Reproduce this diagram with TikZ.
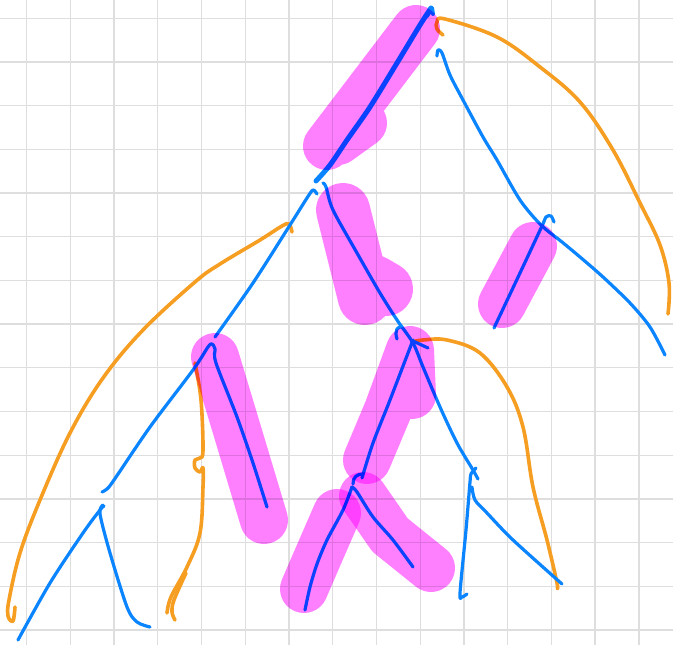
\documentclass[tikz,border=0pt]{standalone}
\definecolor{penblue}{HTML}{0A84FF}
\definecolor{penorange}{HTML}{F59E22}
\definecolor{hlpink}{HTML}{FF80FF}
\definecolor{gridgray}{HTML}{DEDEDE}
\tikzset{
  bluepen/.style={draw=penblue, line width=3.2pt, line cap=round, line join=round},
  boldpen/.style={draw=penblue, line width=5pt, line cap=round, line join=round},
  orangepen/.style={draw=penorange, line width=3.6pt, line cap=round, line join=round},
  hl/.style={draw=hlpink, line width=48pt, line cap=round, line join=round, blend mode=multiply},
  gridline/.style={draw=gridgray, line width=1.3pt}
}
\begin{document}
\begin{tikzpicture}[x=1pt,y=-1pt]
\useasboundingbox (0,0) rectangle (673,645);
\fill[white] (0,0) rectangle (673,645);
% grid paper
\foreach \k in {0,...,14}{
  \draw[gridline] ({26.5+43.74*\k},0) -- ({26.5+43.74*\k},645);
  \draw[gridline] (0,{18.2+43.7*\k}) -- (673,{18.2+43.7*\k});
}
% ---------- orange strokes ----------
\draw[orangepen] plot[smooth, tension=0.6] coordinates {(443,35) (437,29) (437,22) (445,19) (497,37) (540,67) (580,102) (613,150) (640,203) (660,245) (669,283) (668,314)};
\draw[orangepen] plot[smooth, tension=0.6] coordinates {(292,232) (289,224) (282,226) (260,240) (220,264) (195,282) (143,330) (103,378) (70,433) (40,500) (20,553) (9,600) (8,616) (13,621) (15,607)};
\draw[orangepen] plot[smooth, tension=0.6] coordinates {(412,342) (423,340) (447,340) (480,353) (507,387) (523,427) (533,487) (547,540) (557,583) (557,588)};
\draw[orangepen] plot[smooth, tension=0.6] coordinates {(195,363) (201,400) (203,450) (200,458) (195,460) (195,468) (200,472) (203,468) (203,487) (200,533) (187,567) (171,597) (167,613)};
\draw[orangepen] plot[smooth, tension=0.6] coordinates {(186,573) (174,600) (172,612) (175,620)};
% ---------- blue strokes ----------
\draw[boldpen] plot[smooth, tension=0.5] coordinates {(316,181) (330,165) (347,140) (370,107) (397,63) (420,25) (431,8)};
\draw[bluepen, line width=4pt] (427,16) -- (432,8) -- (433,14);
\draw[bluepen] plot[smooth, tension=0.5] coordinates {(437,56) (438,50) (442,53) (450,75) (463,100) (483,137) (497,160) (520,200) (541,225) (562,242) (580,257) (603,277) (630,303) (650,327) (665,355)};
\draw[bluepen] plot[smooth, tension=0.5] coordinates {(554,222) (551,216) (546,217) (542,226) (520,273) (494,328)};
\draw[bluepen] plot[smooth, tension=0.5] coordinates {(323,183) (326,187) (333,210) (357,253) (380,293) (397,320) (413,343) (423,367) (440,407) (457,443) (473,470) (478,479)};
\draw[bluepen] (397,339) .. controls (394,330) and (398,326) .. (402,327);
\draw[bluepen] (413,341) -- (428,348);
\draw[bluepen] plot[smooth, tension=0.5] coordinates {(317,194) (313,190) (307,198) (290,225) (253,283) (215,337)};
\draw[bluepen] plot[smooth, tension=0.5] coordinates {(102,492) (107,489) (114,480) (150,427) (193,370) (208,347) (212,344) (215,349) (216,363) (237,417) (253,463) (267,507)};
\draw[bluepen] plot[smooth, tension=0.5] coordinates {(18,640) (50,583) (83,533) (100,510) (104,506)};
\draw[bluepen] plot[smooth, tension=0.5] coordinates {(103,505) (100,514) (110,553) (127,607) (137,622) (150,627)};
\draw[bluepen] plot[smooth, tension=0.5] coordinates {(413,340) (390,400) (373,443) (362,478)};
\draw[bluepen] (353,484) .. controls (353,477) and (357,474) .. (363,474);
\draw[bluepen] plot[smooth, tension=0.5] coordinates {(352,487) (343,510) (327,540) (317,564) (310,587) (305,610)};
\draw[bluepen] plot[smooth, tension=0.5] coordinates {(352,487) (357,492) (373,517) (393,540) (413,567)};
\draw[bluepen] plot[smooth, tension=0.5] coordinates {(476,468) (471,474) (470,482) (466,530) (460,593) (462,597) (467,594)};
\draw[bluepen] plot[smooth, tension=0.5] coordinates {(472,487) (475,500) (487,513) (513,540) (562,584)};
% ---------- highlighter (multiply), one path per stroke ----------
\draw[hl] (327,146) -- (416,29) (338,141) -- (363,123);
\draw[hl, line width=54pt] (343,210) -- (355,258) -- (365,298) (374,282) -- (386,289);
\draw[hl] (502,304) -- (533,246);
\draw[hl] (215,357) -- (240,440) -- (264,520);
\draw[hl] (410,350) -- (388,410) -- (367,460) (410,350) -- (412,395);
\draw[hl] (363,496) -- (390,535) -- (431,568);
\draw[hl] (337,513) -- (320,552) -- (304,589);
\end{tikzpicture}
\end{document}
